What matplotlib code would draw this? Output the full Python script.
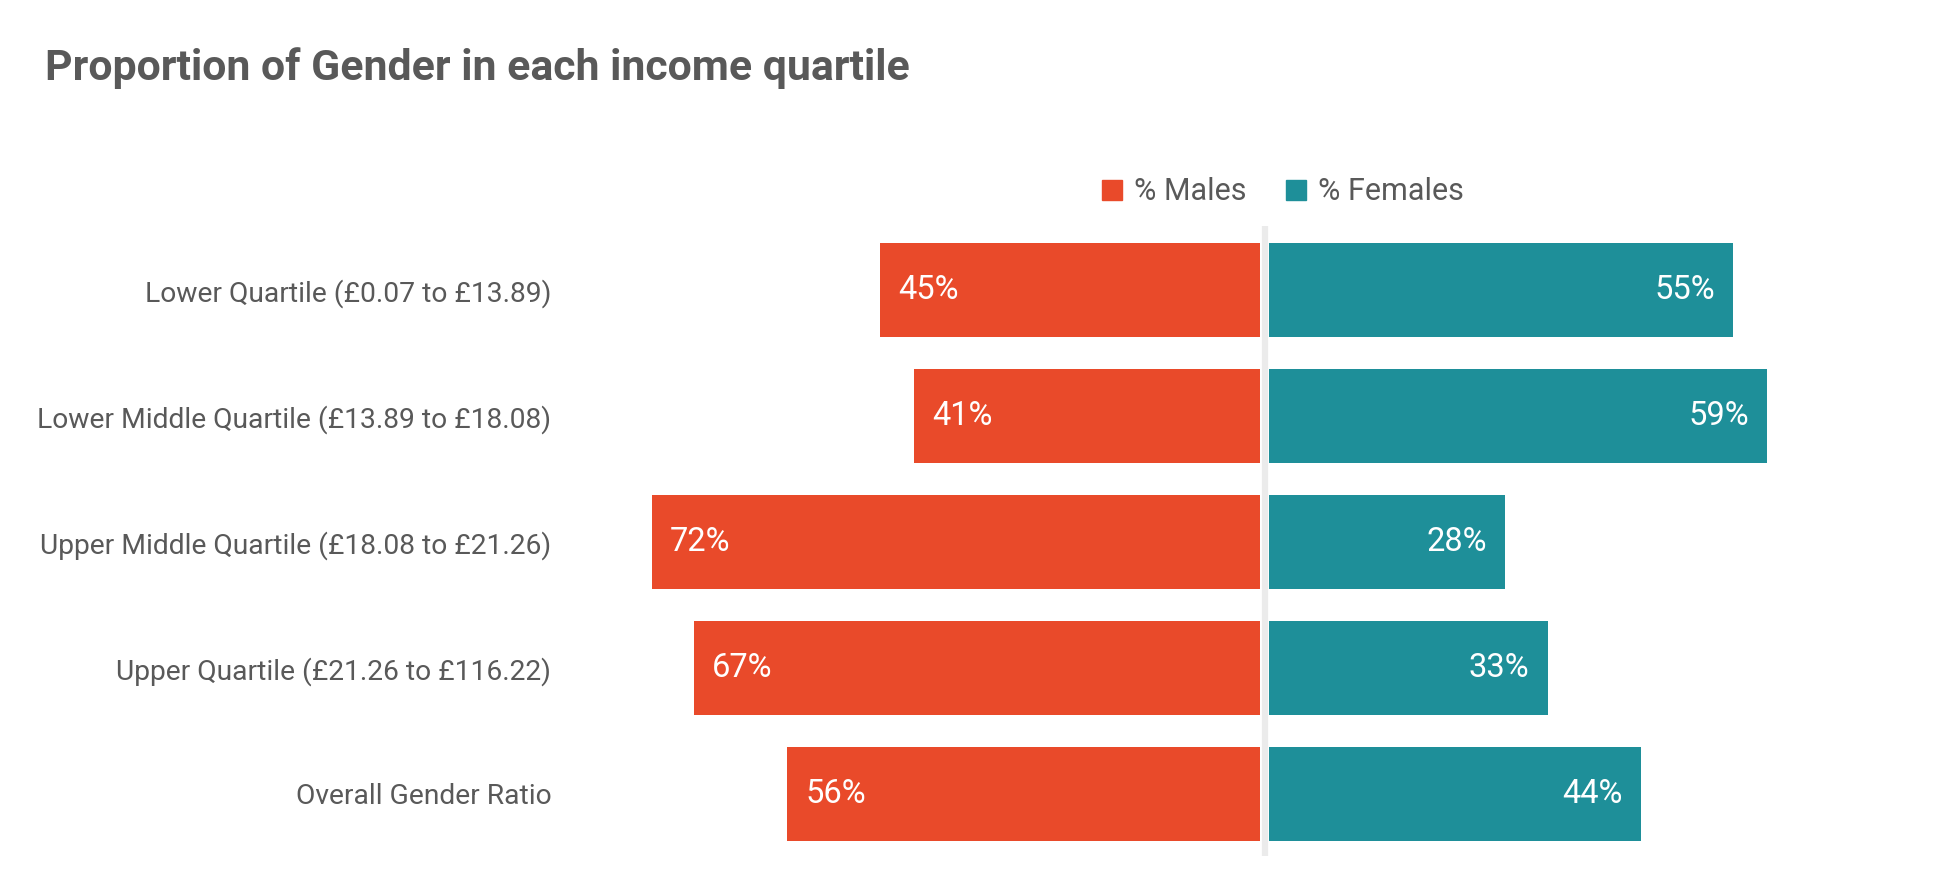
import matplotlib
matplotlib.use("Agg")
import matplotlib.pyplot as plt
from matplotlib.patches import Patch

plt.rcParams['font.family'] = ['Roboto', 'DejaVu Sans']

categories = [
    "Lower Quartile (£0.07 to £13.89)",
    "Lower Middle Quartile (£13.89 to £18.08)",
    "Upper Middle Quartile (£18.08 to £21.26)",
    "Upper Quartile (£21.26 to £116.22)",
    "Overall Gender Ratio",
]
males = [45, 41, 72, 67, 56]
females = [55, 59, 28, 33, 44]
series_names = ["% Males", "% Females"]

RED = "#E94A2A"
TEAL = "#1E8F99"
GREY_TXT = "#595959"

W, H = 1951, 874
fig = plt.figure(figsize=(W / 100, H / 100), dpi=100)
fig.patch.set_facecolor("white")

# axes placement in pixels
L, R = 600, 1900
top_px, bot_px = 226, 856
ax = fig.add_axes([L / W, 1 - bot_px / H, (R - L) / W, (bot_px - top_px) / H])
scale = 8.45  # px per percent
center = 1264.5
ax.set_xlim(-(center - L) / scale, (R - center) / scale)
pitch = 126.0
first_c = 290
ax.set_ylim((bot_px - first_c) / pitch, -(first_c - top_px) / pitch)

gap = 0.5
ys = list(range(len(categories)))
ax.axvline(0, color="#EBEBEB", lw=4.5, zorder=1)
ax.barh(ys, [-m for m in males], left=-gap, height=0.74, color=RED, zorder=2)
ax.barh(ys, females, left=gap, height=0.74, color=TEAL, zorder=2)

for y, m, f in zip(ys, males, females):
    ax.annotate(f"{m}%", xy=(-gap - m, y), xytext=(13, 0), textcoords="offset points",
                ha="left", va="center", color="white", fontsize=23.5)
    ax.annotate(f"{f}%", xy=(gap + f, y), xytext=(-13, 0), textcoords="offset points",
                ha="right", va="center", color="white", fontsize=23.5)

ax.set_yticks(ys)
ax.set_yticklabels(categories, fontsize=20.3, color=GREY_TXT)
ax.tick_params(axis="y", length=0, pad=35)
ax.set_xticks([])
for s in ax.spines.values():
    s.set_visible(False)

fig.text(45 / W, 1 - 68 / H, "Proportion of Gender in each income quartile",
         fontsize=30.8, fontweight="bold", color=GREY_TXT, ha="left", va="center")

handles = [Patch(color=RED), Patch(color=TEAL)]
fig.legend(handles, series_names, loc="center", bbox_to_anchor=(1283 / W, 1 - 192 / H),
           ncol=2, frameon=False, fontsize=22, labelcolor=GREY_TXT,
           handlelength=0.65, handleheight=0.65, handletextpad=0.4, columnspacing=1.3,
           borderpad=0, borderaxespad=0)

fig.savefig("out.png", dpi=100, facecolor="white")
